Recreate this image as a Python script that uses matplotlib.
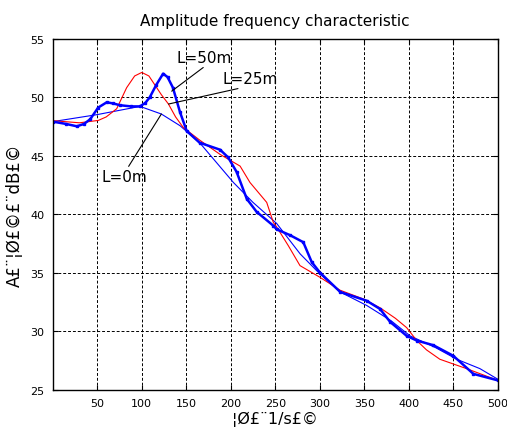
import matplotlib
matplotlib.use("Agg")
import matplotlib.pyplot as plt

# L = 0 m (thin blue)
x0 = [0, 50, 98, 122, 143, 165, 184, 203, 225, 251.6, 278, 300, 322.8, 352.7, 380, 401.5, 430, 454, 480, 500]
y0 = [47.9, 48.5, 49.2, 48.55, 47.55, 46.1, 44.4, 42.7, 41.0, 39.2, 36.6, 34.9, 33.35, 32.2, 30.9, 29.6, 28.6, 27.6, 26.8, 25.9]

# L = 25 m (red)
x25 = [0, 30, 51, 60, 71.8, 83, 92, 100, 108, 115, 122, 130, 138, 146.6, 165.4, 188, 210.5, 221.6, 240.4, 247.8,
       251.6, 264.7, 277.8, 300.3, 322.8, 349, 367.7, 385, 397.7, 409, 420, 435, 465, 500]
y25 = [47.98, 47.8, 48.0, 48.3, 49.0, 50.8, 51.8, 52.1, 51.8, 51.0, 50.2, 49.4, 48.3, 47.4, 46.3, 45.1, 44.1, 42.7, 41.0, 39.3,
       38.9, 37.3, 35.6, 34.6, 33.5, 32.75, 32.0, 31.1, 30.3, 29.2, 28.4, 27.6, 26.8, 25.8]

# L = 50 m (thick blue, measured)
x50 = [0, 15, 27, 35, 42, 51, 60.6, 68, 75.5, 88, 98, 104, 109, 116, 124, 129, 135, 143, 150.5, 165, 188, 197, 206.6,
       218, 229, 248, 251.6, 266.6, 281.5, 291, 300.3, 323, 352.7, 367.7, 379, 397.7, 409, 427.7, 450, 472.7, 500]
y50 = [47.9, 47.7, 47.5, 47.7, 48.1, 49.1, 49.55, 49.45, 49.3, 49.2, 49.2, 49.5, 49.98, 51.0, 52.0, 51.7, 50.8, 48.7, 47.1, 46.1, 45.5, 44.85, 43.6,
       41.3, 40.2, 39.0, 38.7, 38.2, 37.6, 35.9, 35.0, 33.35, 32.6, 31.9, 30.8, 29.6, 29.2, 28.8, 27.9, 26.35, 25.8]

labels = ["L=0m", "L=25m", "L=50m"]
xticks = [50, 100, 150, 200, 250, 300, 350, 400, 450, 500]
yticks = [25, 30, 35, 40, 45, 50, 55]

plt.rcParams['font.family'] = ['DejaVu Sans']
fig = plt.figure(figsize=(5.07, 4.31), dpi=100)
ax = fig.add_axes([52.8 / 507, 1 - 390.7 / 431, (497.7 - 52.8) / 507, (390.7 - 39.5) / 431])

ax.plot(x0, y0, color='blue', lw=0.8)
ax.plot(x25, y25, color='red', lw=0.8)
ax.plot(x50, y50, color='blue', lw=1.8, marker='s', markersize=2)

ax.set_xlim(0, 500)
ax.set_ylim(25, 55)
ax.set_xticks(xticks)
ax.set_yticks(yticks)
ax.grid(True, color='black', linestyle=(0, (3, 2)), linewidth=0.7)
ax.tick_params(direction='in', labelsize=8, top=True, right=True, pad=6)
for s in ax.spines.values():
    s.set_linewidth(1.0)

ax.set_title("Amplitude frequency characteristic", fontsize=11, pad=10)
ax.set_xlabel("¦Ø£¨1/s£©", fontsize=11.5, labelpad=2)
ax.set_ylabel("A£¨¦Ø£©£¨dB£©", fontsize=12, labelpad=5)

ax.annotate(labels[2], xy=(133.6, 50.5), xytext=(139, 53.4), fontsize=11, va='center',
            arrowprops=dict(arrowstyle='-', color='black', lw=0.8, shrinkA=0, shrinkB=0,
                            relpos=(0.55, 0.0)))
ax.annotate(labels[1], xy=(130, 49.4), xytext=(191, 51.6), fontsize=11, va='center',
            arrowprops=dict(arrowstyle='-', color='black', lw=0.8, shrinkA=0, shrinkB=0,
                            relpos=(0.5, 0.0)))
ax.annotate(labels[0], xy=(122, 48.55), xytext=(55, 43.2), fontsize=11, va='center',
            arrowprops=dict(arrowstyle='-', color='black', lw=0.8, shrinkA=0, shrinkB=0,
                            relpos=(0.55, 1.0)))

fig.savefig("out.png", dpi=100)
